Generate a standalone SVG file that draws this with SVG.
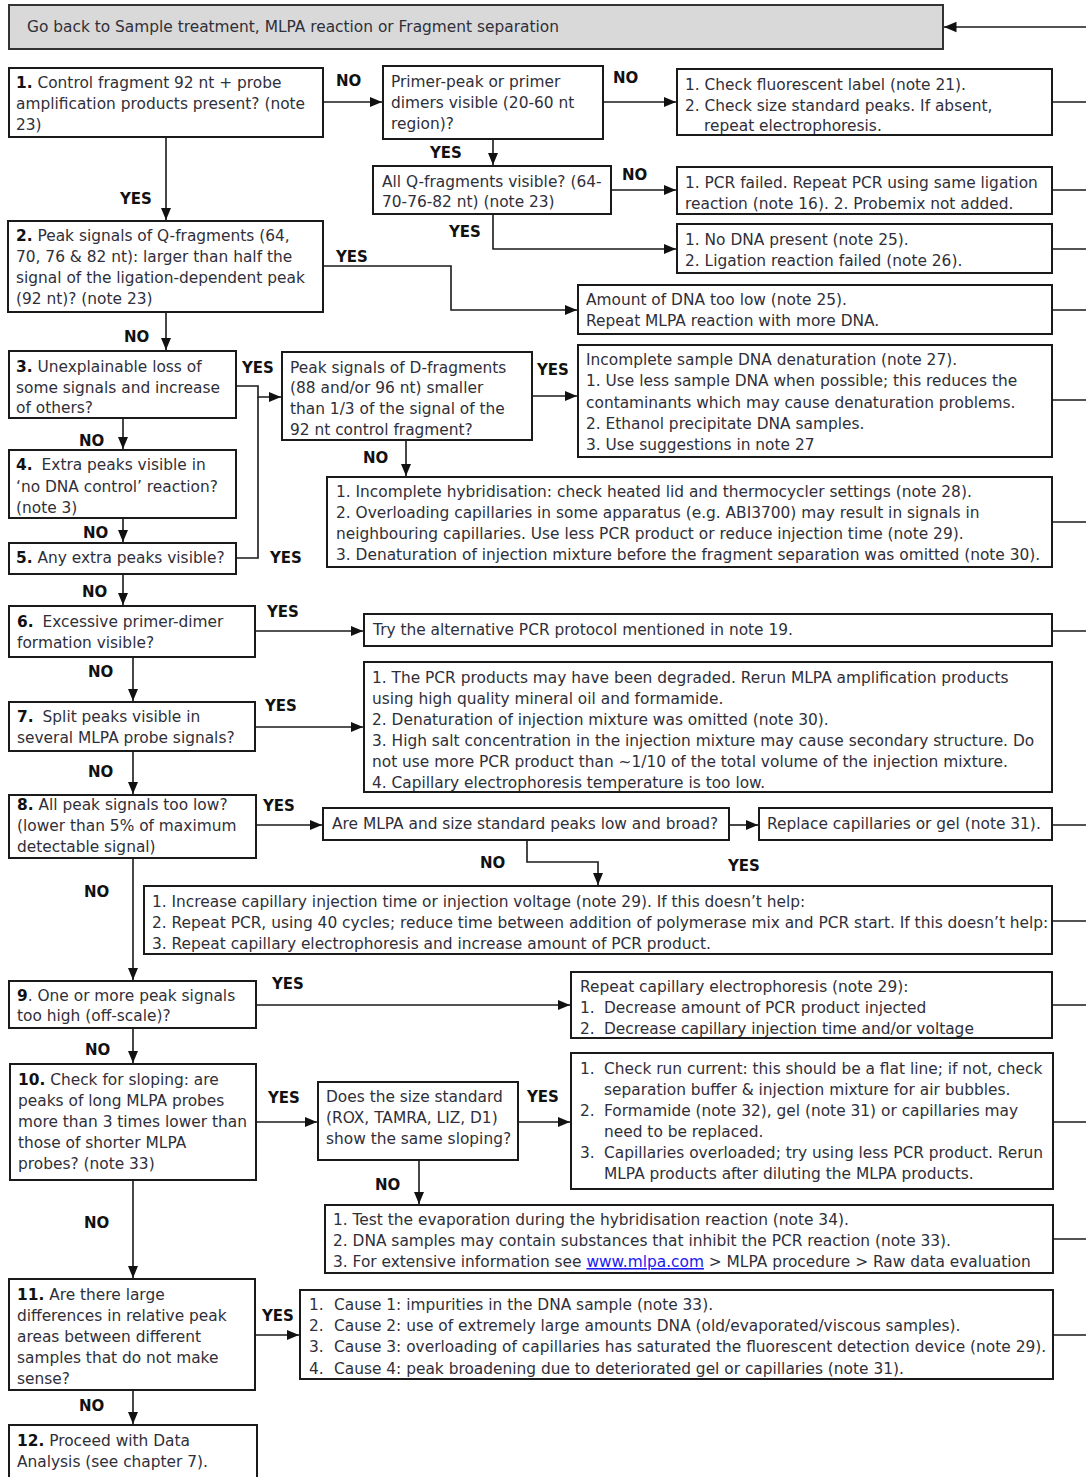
<svg xmlns="http://www.w3.org/2000/svg" width="1086" height="1477" viewBox="0 0 1086 1477">
<defs>
<style>
.box{fill:#fff;stroke:#1a1a1a;stroke-width:2}
.gray{fill:#d9d9d9;stroke:#333;stroke-width:2}
.t{font-family:"DejaVu Sans",Verdana,sans-serif;font-size:15.4px;fill:#2f2f3a}
.b{font-weight:bold;fill:#111}
.lbl{font-family:"DejaVu Sans",Verdana,sans-serif;font-size:15px;font-weight:bold;fill:#111}
.c{fill:none;stroke:#1a1a1a;stroke-width:1.6}
.a{marker-end:url(#arr)}
.link{fill:#1a1aee;text-decoration:underline}
</style>
<marker id="arr" markerUnits="userSpaceOnUse" markerWidth="14" markerHeight="14" viewBox="0 0 14 14" refX="12.5" refY="7" orient="auto">
<path d="M0,1.8 L12.5,7 L0,12.2 Z" fill="#111"/>
</marker>
</defs>
<rect width="1086" height="1477" fill="#fff"/>

<g id="connectors">
<path class="c a" d="M1086,27 H944"/>
<path class="c a" d="M323,102 H382"/>
<path class="c a" d="M603,102 H676"/>
<path class="c" d="M1052,102 H1086"/>
<path class="c a" d="M493,139 V165"/>
<path class="c a" d="M611,190 H676"/>
<path class="c" d="M1052,190 H1086"/>
<path class="c a" d="M493,214 V249 H676"/>
<path class="c" d="M1052,249 H1086"/>
<path class="c a" d="M166,137 V220"/>
<path class="c a" d="M323,266 H451 V310 H577"/>
<path class="c" d="M1052,310 H1086"/>
<path class="c a" d="M166,312 V350"/>
<path class="c a" d="M236,386 H258 V397 H281"/>
<path class="c" d="M236,558 H258 V397"/>
<path class="c a" d="M532,396 H577"/>
<path class="c" d="M1052,400 H1086"/>
<path class="c a" d="M406,440 V476"/>
<path class="c" d="M1052,522 H1086"/>
<path class="c a" d="M123,418 V449"/>
<path class="c a" d="M123,518 V542"/>
<path class="c a" d="M123,574 V605"/>
<path class="c a" d="M255,631 H363"/>
<path class="c" d="M1052,631 H1086"/>
<path class="c a" d="M133,657 V701"/>
<path class="c a" d="M255,727 H363"/>
<path class="c a" d="M133,751 V794"/>
<path class="c a" d="M256,825 H322"/>
<path class="c a" d="M729,825 H758"/>
<path class="c" d="M1052,825 H1086"/>
<path class="c a" d="M527,840 V862 H598 V885"/>
<path class="c" d="M1052,921 H1086"/>
<path class="c a" d="M133,858 V980"/>
<path class="c a" d="M256,1005 H570"/>
<path class="c" d="M1052,1005 H1086"/>
<path class="c a" d="M133,1028 V1063"/>
<path class="c a" d="M256,1122 H317"/>
<path class="c a" d="M518,1122 H570"/>
<path class="c" d="M1053,1122 H1086"/>
<path class="c a" d="M419,1160 V1204"/>
<path class="c" d="M1053,1239 H1086"/>
<path class="c a" d="M133,1180 V1278"/>
<path class="c a" d="M255,1335 H299"/>
<path class="c" d="M1053,1335 H1086"/>
<path class="c a" d="M133,1390 V1424"/>
</g>

<g id="labels">
<text class="lbl" x="336" y="86">NO</text>
<text class="lbl" x="613" y="83">NO</text>
<text class="lbl" x="430" y="158">YES</text>
<text class="lbl" x="622" y="180">NO</text>
<text class="lbl" x="449" y="237">YES</text>
<text class="lbl" x="120" y="204">YES</text>
<text class="lbl" x="336" y="262">YES</text>
<text class="lbl" x="124" y="342">NO</text>
<text class="lbl" x="242" y="373">YES</text>
<text class="lbl" x="537" y="375">YES</text>
<text class="lbl" x="363" y="463">NO</text>
<text class="lbl" x="79" y="446">NO</text>
<text class="lbl" x="83" y="538">NO</text>
<text class="lbl" x="270" y="563">YES</text>
<text class="lbl" x="82" y="597">NO</text>
<text class="lbl" x="267" y="617">YES</text>
<text class="lbl" x="88" y="677">NO</text>
<text class="lbl" x="265" y="711">YES</text>
<text class="lbl" x="88" y="777">NO</text>
<text class="lbl" x="263" y="811">YES</text>
<text class="lbl" x="480" y="868">NO</text>
<text class="lbl" x="728" y="871">YES</text>
<text class="lbl" x="84" y="897">NO</text>
<text class="lbl" x="272" y="989">YES</text>
<text class="lbl" x="85" y="1055">NO</text>
<text class="lbl" x="268" y="1103">YES</text>
<text class="lbl" x="527" y="1102">YES</text>
<text class="lbl" x="375" y="1190">NO</text>
<text class="lbl" x="84" y="1228">NO</text>
<text class="lbl" x="262" y="1321">YES</text>
<text class="lbl" x="79" y="1411">NO</text>
</g>

<g id="goback">
<rect class="gray" x="9" y="5" width="934" height="44"/>
<text class="t" x="27" y="32">Go back to Sample treatment, MLPA reaction or Fragment separation</text>
</g>

<g id="q1">
<rect class="box" x="9" y="68" width="314" height="69"/>
<text class="t" x="16" y="88"><tspan class="b">1.</tspan> Control fragment 92 nt + probe</text>
<text class="t" x="16" y="109">amplification products present? (note</text>
<text class="t" x="16" y="130">23)</text>
</g>

<g id="primer">
<rect class="box" x="383" y="66" width="220" height="73"/>
<text class="t" x="391" y="87">Primer-peak or primer</text>
<text class="t" x="391" y="108">dimers visible (20-60 nt</text>
<text class="t" x="391" y="129">region)?</text>
</g>

<g id="check">
<rect class="box" x="677" y="69" width="375" height="66"/>
<text class="t" x="685" y="90">1. Check fluorescent label (note 21).</text>
<text class="t" x="685" y="111">2. Check size standard peaks. If absent,</text>
<text class="t" x="704" y="131">repeat electrophoresis.</text>
</g>

<g id="allq">
<rect class="box" x="373" y="166" width="238" height="48"/>
<text class="t" x="382" y="187">All Q-fragments visible? (64-</text>
<text class="t" x="382" y="207">70-76-82 nt) (note 23)</text>
</g>

<g id="pcrfailed">
<rect class="box" x="677" y="167" width="375" height="47"/>
<text class="t" x="685" y="188">1. PCR failed. Repeat PCR using same ligation</text>
<text class="t" x="685" y="209">reaction (note 16). 2. Probemix not added.</text>
</g>

<g id="nodna">
<rect class="box" x="677" y="224" width="375" height="49"/>
<text class="t" x="685" y="245">1. No DNA present (note 25).</text>
<text class="t" x="685" y="266">2. Ligation reaction failed (note 26).</text>
</g>

<g id="q2">
<rect class="box" x="8" y="221" width="315" height="91"/>
<text class="t" x="16" y="241"><tspan class="b">2.</tspan> Peak signals of Q-fragments (64,</text>
<text class="t" x="16" y="262">70, 76 &amp; 82 nt): larger than half the</text>
<text class="t" x="16" y="283">signal of the ligation-dependent peak</text>
<text class="t" x="16" y="304">(92 nt)? (note 23)</text>
</g>

<g id="amount">
<rect class="box" x="578" y="285" width="474" height="49"/>
<text class="t" x="586" y="305">Amount of DNA too low (note 25).</text>
<text class="t" x="586" y="326">Repeat MLPA reaction with more DNA.</text>
</g>

<g id="q3">
<rect class="box" x="9" y="351" width="227" height="67"/>
<text class="t" x="16" y="372"><tspan class="b">3.</tspan> Unexplainable loss of</text>
<text class="t" x="16" y="393">some signals and increase</text>
<text class="t" x="16" y="413">of others?</text>
</g>

<g id="dfrag">
<rect class="box" x="282" y="352" width="250" height="88"/>
<text class="t" x="290" y="373">Peak signals of D-fragments</text>
<text class="t" x="290" y="393">(88 and/or 96 nt) smaller</text>
<text class="t" x="290" y="414">than 1/3 of the signal of the</text>
<text class="t" x="290" y="435">92 nt control fragment?</text>
</g>

<g id="denat">
<rect class="box" x="578" y="345" width="474" height="112"/>
<text class="t" x="586" y="365">Incomplete sample DNA denaturation (note 27).</text>
<text class="t" x="586" y="386">1. Use less sample DNA when possible; this reduces the</text>
<text class="t" x="586" y="408">contaminants which may cause denaturation problems.</text>
<text class="t" x="586" y="429">2. Ethanol precipitate DNA samples.</text>
<text class="t" x="586" y="450">3. Use suggestions in note 27</text>
</g>

<g id="q4">
<rect class="box" x="9" y="450" width="227" height="68"/>
<text class="t" x="16" y="470"><tspan class="b">4.</tspan><tspan dx="9">Extra peaks visible in</tspan></text>
<text class="t" x="16" y="492">‘no DNA control’ reaction?</text>
<text class="t" x="16" y="513">(note 3)</text>
</g>

<g id="hybrid">
<rect class="box" x="327" y="477" width="725" height="90"/>
<text class="t" x="336" y="497">1. Incomplete hybridisation: check heated lid and thermocycler settings (note 28).</text>
<text class="t" x="336" y="518">2. Overloading capillaries in some apparatus (e.g. ABI3700) may result in signals in</text>
<text class="t" x="336" y="539">neighbouring capillaries. Use less PCR product or reduce injection time (note 29).</text>
<text class="t" x="336" y="560">3. Denaturation of injection mixture before the fragment separation was omitted (note 30).</text>
</g>

<g id="q5">
<rect class="box" x="9" y="543" width="227" height="31"/>
<text class="t" x="16" y="563"><tspan class="b">5.</tspan> Any extra peaks visible?</text>
</g>

<g id="q6">
<rect class="box" x="9" y="606" width="246" height="51"/>
<text class="t" x="17" y="627"><tspan class="b">6.</tspan><tspan dx="9">Excessive primer-dimer</tspan></text>
<text class="t" x="17" y="648">formation visible?</text>
</g>

<g id="altpcr">
<rect class="box" x="364" y="614" width="688" height="32"/>
<text class="t" x="373" y="635">Try the alternative PCR protocol mentioned in note 19.</text>
</g>

<g id="q7">
<rect class="box" x="9" y="702" width="246" height="49"/>
<text class="t" x="17" y="722"><tspan class="b">7.</tspan><tspan dx="9">Split peaks visible in</tspan></text>
<text class="t" x="17" y="743">several MLPA probe signals?</text>
</g>

<g id="degraded">
<rect class="box" x="364" y="662" width="688" height="130"/>
<text class="t" x="372" y="683">1. The PCR products may have been degraded. Rerun MLPA amplification products</text>
<text class="t" x="372" y="704">using high quality mineral oil and formamide.</text>
<text class="t" x="372" y="725">2. Denaturation of injection mixture was omitted (note 30).</text>
<text class="t" x="372" y="746">3. High salt concentration in the injection mixture may cause secondary structure. Do</text>
<text class="t" x="372" y="767">not use more PCR product than ~1/10 of the total volume of the injection mixture.</text>
<text class="t" x="372" y="788">4. Capillary electrophoresis temperature is too low.</text>
</g>

<g id="q8">
<rect class="box" x="9" y="795" width="247" height="63"/>
<text class="t" x="17" y="810"><tspan class="b">8.</tspan> All peak signals too low?</text>
<text class="t" x="17" y="831">(lower than 5% of maximum</text>
<text class="t" x="17" y="852">detectable signal)</text>
</g>

<g id="lowbroad">
<rect class="box" x="323" y="808" width="406" height="32"/>
<text class="t" x="332" y="829">Are MLPA and size standard peaks low and broad?</text>
</g>

<g id="replace">
<rect class="box" x="759" y="808" width="293" height="32"/>
<text class="t" x="767" y="829">Replace capillaries or gel (note 31).</text>
</g>

<g id="increase">
<rect class="box" x="144" y="886" width="908" height="68"/>
<text class="t" x="152" y="907">1. Increase capillary injection time or injection voltage (note 29). If this doesn’t help:</text>
<text class="t" x="152" y="928">2. Repeat PCR, using 40 cycles; reduce time between addition of polymerase mix and PCR start. If this doesn’t help:</text>
<text class="t" x="152" y="949">3. Repeat capillary electrophoresis and increase amount of PCR product.</text>
</g>

<g id="q9">
<rect class="box" x="9" y="981" width="247" height="47"/>
<text class="t" x="17" y="1001"><tspan class="b">9</tspan>. One or more peak signals</text>
<text class="t" x="17" y="1021">too high (off-scale)?</text>
</g>

<g id="repeatce">
<rect class="box" x="571" y="972" width="481" height="66"/>
<text class="t" x="580" y="992">Repeat capillary electrophoresis (note 29):</text>
<text class="t" x="580" y="1013">1.</text><text class="t" x="604" y="1013">Decrease amount of PCR product injected</text>
<text class="t" x="580" y="1034">2.</text><text class="t" x="604" y="1034">Decrease capillary injection time and/or voltage</text>
</g>

<g id="q10">
<rect class="box" x="10" y="1064" width="246" height="116"/>
<text class="t" x="18" y="1085"><tspan class="b">10.</tspan> Check for sloping: are</text>
<text class="t" x="18" y="1106">peaks of long MLPA probes</text>
<text class="t" x="18" y="1127">more than 3 times lower than</text>
<text class="t" x="18" y="1148">those of shorter MLPA</text>
<text class="t" x="18" y="1169">probes? (note 33)</text>
</g>

<g id="sizestd">
<rect class="box" x="318" y="1082" width="200" height="78"/>
<text class="t" x="326" y="1102">Does the size standard</text>
<text class="t" x="326" y="1123">(ROX, TAMRA, LIZ, D1)</text>
<text class="t" x="326" y="1144">show the same sloping?</text>
</g>

<g id="runcurrent">
<rect class="box" x="571" y="1053" width="482" height="136"/>
<text class="t" x="580" y="1074">1.</text><text class="t" x="604" y="1074">Check run current: this should be a flat line; if not, check</text>
<text class="t" x="604" y="1095">separation buffer &amp; injection mixture for air bubbles.</text>
<text class="t" x="580" y="1116">2.</text><text class="t" x="604" y="1116">Formamide (note 32), gel (note 31) or capillaries may</text>
<text class="t" x="604" y="1137">need to be replaced.</text>
<text class="t" x="580" y="1158">3.</text><text class="t" x="604" y="1158">Capillaries overloaded; try using less PCR product. Rerun</text>
<text class="t" x="604" y="1179">MLPA products after diluting the MLPA products.</text>
</g>

<g id="evap">
<rect class="box" x="325" y="1205" width="728" height="68"/>
<text class="t" x="333" y="1225">1. Test the evaporation during the hybridisation reaction (note 34).</text>
<text class="t" x="333" y="1246">2. DNA samples may contain substances that inhibit the PCR reaction (note 33).</text>
<text class="t" x="333" y="1267">3. For extensive information see <tspan class="link">www.mlpa.com</tspan> &gt; MLPA procedure &gt; Raw data evaluation</text>
</g>

<g id="q11">
<rect class="box" x="9" y="1279" width="246" height="111"/>
<text class="t" x="17" y="1300"><tspan class="b">11.</tspan> Are there large</text>
<text class="t" x="17" y="1321">differences in relative peak</text>
<text class="t" x="17" y="1342">areas between different</text>
<text class="t" x="17" y="1363">samples that do not make</text>
<text class="t" x="17" y="1384">sense?</text>
</g>

<g id="causes">
<rect class="box" x="300" y="1290" width="753" height="89"/>
<text class="t" x="309" y="1310">1.</text><text class="t" x="334" y="1310">Cause 1: impurities in the DNA sample (note 33).</text>
<text class="t" x="309" y="1331">2.</text><text class="t" x="334" y="1331">Cause 2: use of extremely large amounts DNA (old/evaporated/viscous samples).</text>
<text class="t" x="309" y="1352">3.</text><text class="t" x="334" y="1352">Cause 3: overloading of capillaries has saturated the fluorescent detection device (note 29).</text>
<text class="t" x="309" y="1374">4.</text><text class="t" x="334" y="1374">Cause 4: peak broadening due to deteriorated gel or capillaries (note 31).</text>
</g>

<g id="q12">
<rect class="box" x="9" y="1425" width="248" height="62"/>
<text class="t" x="17" y="1446"><tspan class="b">12.</tspan> Proceed with Data</text>
<text class="t" x="17" y="1467">Analysis (see chapter 7).</text>
</g>
</svg>
